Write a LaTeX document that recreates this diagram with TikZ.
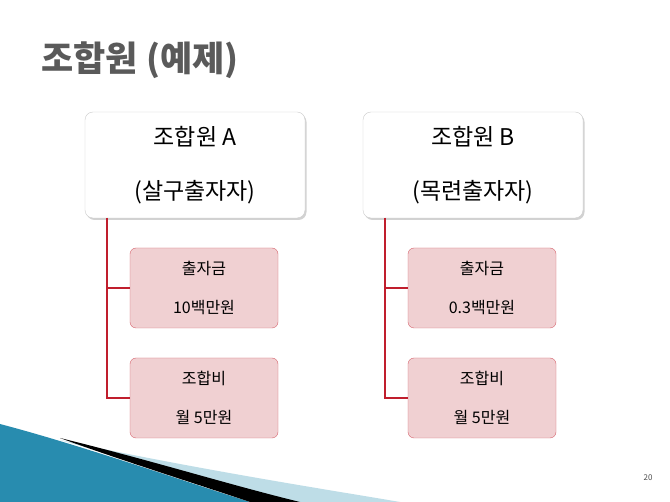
\documentclass[tikz,border=0pt]{standalone}
\usepackage{fontspec}
\setmainfont{Noto Sans CJK KR}
\usetikzlibrary{shadows}
\definecolor{ttl}{RGB}{90,90,90}
\definecolor{lnk}{RGB}{192,30,45}
\definecolor{cfill}{RGB}{240,208,210}
\definecolor{cdraw}{RGB}{215,100,110}
\definecolor{teal}{RGB}{40,140,175}
\tikzset{
 top/.style={draw=black!20,fill=white,rounded corners=8pt,minimum width=220pt,minimum height=106pt,drop shadow={shadow xshift=1.5pt,shadow yshift=-2pt,opacity=0.35},align=center,font=\fontsize{23}{54}\selectfont},
 child/.style={draw=cdraw,fill=cfill,rounded corners=6pt,minimum width=148pt,minimum height=80pt,align=center,font=\fontsize{16}{39}\selectfont},
 link/.style={draw=lnk,line width=2pt}
}
\begin{document}
\begin{tikzpicture}[x=1pt,y=-1pt]
\useasboundingbox (0,0) rectangle (670,502);
\fill[white] (0,0) rectangle (670,502);
% bottom decoration
\fill[teal] (0,424) .. controls (80,445) and (180,480) .. (250,502) -- (0,502) -- cycle;
\fill[teal!30!white] (60,440) .. controls (200,470) and (330,490) .. (400,502) -- (280,502) -- cycle;
\fill[black] (60,438) .. controls (150,460) and (230,485) .. (300,502) -- (250,502) .. controls (200,485) and (120,460) .. (60,438) -- cycle;
\node[anchor=west,text=ttl,font=\bfseries\fontsize{35}{38}\selectfont] (title) at (38,60) {조합원 (예제)};
\node[top] (A) at (195,165) {조합원 A\\(살구출자자)};
\node[top] (B) at (473,165) {조합원 B\\(목련출자자)};
\node[child] (A1) at (204,288) {출자금\\10백만원};
\node[child] (A2) at (204,398) {조합비\\월 5만원};
\node[child] (B1) at (482,288) {출자금\\0.3백만원};
\node[child] (B2) at (482,398) {조합비\\월 5만원};
\coordinate (a0) at (107,218);
\coordinate (b0) at (385,218);
\draw[link] (a0) |- (A1.west);
\draw[link] (a0) |- (A2.west);
\draw[link] (b0) |- (B1.west);
\draw[link] (b0) |- (B2.west);
\node[font=\fontsize{8}{9}\selectfont,text=black!70] (pg) at (648,478) {20};
\end{tikzpicture}
\end{document}
